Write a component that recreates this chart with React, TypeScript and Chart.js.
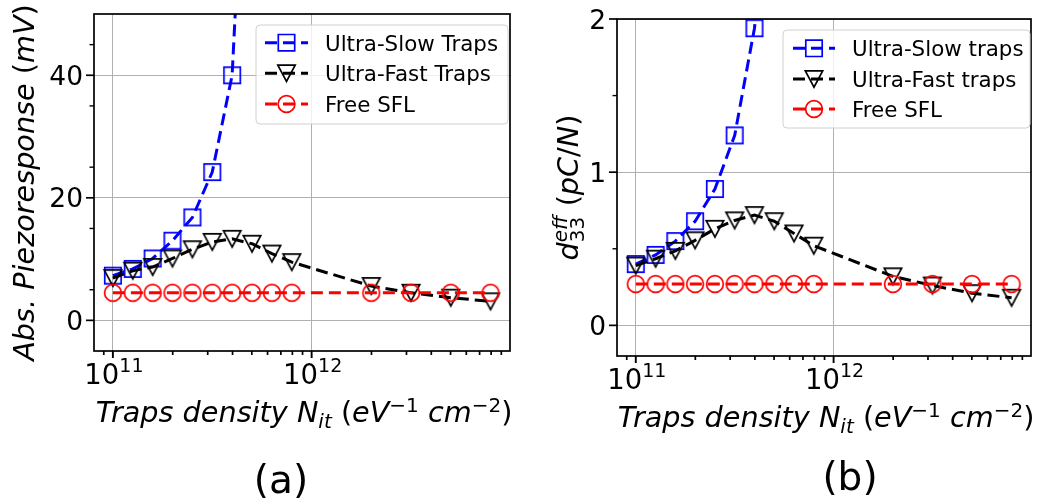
import React, { useEffect, useRef } from "react";
import { Chart, registerables } from "chart.js";

Chart.register(...registerables);

// ---------------- data ----------------
const trapDensity = [
  1e11, 1.259e11, 1.585e11, 1.995e11, 2.512e11, 3.162e11, 3.981e11, 5.012e11,
  6.31e11, 7.943e11, 1.995e12, 3.162e12, 5.012e12, 7.943e12,
];

const seriesNamesA = ["Ultra-Slow Traps", "Ultra-Fast Traps", "Free SFL"];
const seriesNamesB = ["Ultra-Slow traps", "Ultra-Fast traps", "Free SFL"];

// (a) Abs. Piezoresponse (mV)
const slowPiezo = [7.3, 8.4, 10.1, 13.0, 16.8, 24.2, 40.0, 105];
const fastPiezo = [6.9, 8.1, 8.7, 10.1, 11.6, 12.8, 13.3, 12.5, 10.9, 9.5, 5.6, 4.5, 3.7, 3.1];
const sflPiezo = [4.5, 4.5, 4.5, 4.5, 4.5, 4.5, 4.5, 4.5, 4.5, 4.5, 4.5, 4.5, 4.5, 4.5];

// (b) d33 eff (pC/N)
const slowD33 = [0.4, 0.46, 0.55, 0.68, 0.89, 1.24, 1.94, 3.2];
const fastD33 = [0.39, 0.435, 0.486, 0.555, 0.63, 0.685, 0.72, 0.68, 0.6, 0.52, 0.32, 0.26, 0.21, 0.18];
const sflD33 = [0.27, 0.27, 0.27, 0.27, 0.27, 0.27, 0.27, 0.27, 0.27, 0.27, 0.27, 0.27, 0.27, 0.27];

const xTickValues = [1e11, 1e12];
const xTickExponents = ["11", "12"];
const xMinorMantissas = [2, 3, 4, 5, 6, 7, 8, 9];
const xMinorDecades = [10, 11, 12];
const yTicksA = [0, 20, 40];
const yMinorA = [5, 15, 25, 35, 45];
const yTicksB = [0, 1, 2];
const yMinorB = [0.5, 1.5];

const X_MIN = Math.pow(10, 10.905);
const X_MAX = Math.pow(10, 12.998);

// ---------------- helpers ----------------
type Seg = { t: string; s: number; it?: boolean; dy?: number; stack?: boolean };
const FAM = '"DejaVu Sans"';
const segFont = (g: Seg) => `${g.it ? "italic " : ""}${g.s}px ${FAM}`;

function segsWidth(ctx: CanvasRenderingContext2D, segs: Seg[]) {
  let w = 0;
  let pending = 0;
  for (const g of segs) {
    ctx.font = segFont(g);
    const m = ctx.measureText(g.t).width;
    if (g.stack) {
      pending = m;
      continue;
    }
    w += Math.max(m, pending);
    pending = 0;
  }
  return w;
}

function drawSegs(ctx: CanvasRenderingContext2D, segs: Seg[], x: number, y: number) {
  let cx = x;
  let pending = 0;
  ctx.textAlign = "left";
  ctx.textBaseline = "alphabetic";
  for (const g of segs) {
    ctx.font = segFont(g);
    const m = ctx.measureText(g.t).width;
    ctx.fillText(g.t, cx, y + (g.dy || 0));
    if (g.stack) {
      pending = m;
      continue;
    }
    cx += Math.max(m, pending);
    pending = 0;
  }
}

const MARKER_LW = 1.7;

function makeMarker(kind: "square" | "tri" | "circle", color: string) {
  const c = document.createElement("canvas");
  c.width = 24;
  c.height = 24;
  const ctx = c.getContext("2d")!;
  ctx.strokeStyle = color;
  ctx.lineWidth = MARKER_LW;
  ctx.beginPath();
  drawMarkerPath(ctx, kind, 12, 12);
  ctx.stroke();
  return c;
}

function drawMarkerPath(ctx: CanvasRenderingContext2D, kind: string, x: number, y: number) {
  if (kind === "square") {
    ctx.rect(x - 8.2, y - 8.2, 16.4, 16.4);
  } else if (kind === "tri") {
    ctx.moveTo(x - 8.7, y - 8.2);
    ctx.lineTo(x + 8.7, y - 8.2);
    ctx.lineTo(x, y + 8.2);
    ctx.closePath();
  } else {
    ctx.arc(x, y, 8.4, 0, Math.PI * 2);
  }
}

const COLORS = ["#0000ff", "#000000", "#ff0000"];
const KINDS: ("square" | "tri" | "circle")[] = ["square", "tri", "circle"];
const DASH = [12, 6];
const LW = 3;

const TS = 28.7;
const TSS = 20;

const xTitle: Seg[] = [
  { t: "Traps density ", s: TS, it: true },
  { t: "N", s: TS, it: true },
  { t: "it", s: TSS, it: true, dy: 6 },
  { t: " (", s: TS },
  { t: "eV", s: TS, it: true },
  { t: "\u22121", s: TSS, dy: -10 },
  { t: " ", s: TS },
  { t: "cm", s: TS, it: true },
  { t: "\u22122", s: TSS, dy: -10 },
  { t: ")", s: TS },
];

const yTitleA: Seg[] = [
  { t: "Abs. Piezoresponse", s: TS, it: true },
  { t: " (", s: TS },
  { t: "mV", s: TS, it: true },
  { t: ")", s: TS },
];

const yTitleB: Seg[] = [
  { t: "d", s: TS, it: true },
  { t: "eff", s: TSS, it: true, dy: -11, stack: true },
  { t: "33", s: TSS, dy: 6 },
  { t: " (", s: TS },
  { t: "pC", s: TS, it: true },
  { t: "/", s: TS },
  { t: "N", s: TS, it: true },
  { t: ")", s: TS },
];

interface PanelCfg {
  left: number;
  names: string[];
  series: number[][];
  yMin: number;
  yMax: number;
  yTicks: number[];
  yMinor: number[];
  padTop: number;
  padRight: number;
  yWidth: number;
  xHeight: number;
  yTitle: Seg[];
  yTitleX: number;
  legend: { x: number; y: number; w: number; h: number; rows: number[]; hx0: number; hx1: number; tx: number };
  label: string;
  labelX: number;
  labelY: number;
}

const panelA: PanelCfg = {
  left: 0,
  names: seriesNamesA,
  series: [slowPiezo, fastPiezo, sflPiezo],
  yMin: -5,
  yMax: 50,
  yTicks: yTicksA,
  yMinor: yMinorA,
  padTop: 14,
  padRight: 3,
  yWidth: 94,
  xHeight: 151,
  yTitle: yTitleA,
  yTitleX: 34,
  legend: { x: 256, y: 25, w: 252, h: 99, rows: [42.7, 73.3, 104], hx0: 265, hx1: 308, tx: 325 },
  label: "(a)",
  labelX: 281,
  labelY: 493,
};

const panelB: PanelCfg = {
  left: 521,
  names: seriesNamesB,
  series: [slowD33, fastD33, sflD33],
  yMin: -0.2,
  yMax: 2,
  yTicks: yTicksB,
  yMinor: yMinorB,
  padTop: 19,
  padRight: 2,
  yWidth: 96,
  xHeight: 146,
  yTitle: yTitleB,
  yTitleX: 57,
  legend: { x: 262, y: 30, w: 247, h: 98, rows: [48.3, 79, 109], hx0: 272, hx1: 314, tx: 331 },
  label: "(b)",
  labelX: 329,
  labelY: 490,
};

function decoPlugin(cfg: PanelCfg) {
  return {
    id: "deco",
    afterDraw(chart: any) {
      const ctx: CanvasRenderingContext2D = chart.ctx;
      const { left, right, top, bottom } = chart.chartArea;
      const xs = chart.scales.x;
      const ys = chart.scales.y;
      ctx.save();
      ctx.fillStyle = "#000";
      ctx.strokeStyle = "#000";
      ctx.setLineDash([]);

      // y ticks
      ctx.lineWidth = 1.7;
      for (const v of cfg.yTicks) {
        const py = ys.getPixelForValue(v);
        ctx.beginPath();
        ctx.moveTo(left - 8, py);
        ctx.lineTo(left, py);
        ctx.stroke();
        ctx.font = `26.5px ${FAM}`;
        ctx.textAlign = "right";
        ctx.textBaseline = "alphabetic";
        ctx.fillText(String(v), left - 11, py + 9.6);
      }
      ctx.lineWidth = 1.4;
      for (const v of cfg.yMinor) {
        const py = ys.getPixelForValue(v);
        ctx.beginPath();
        ctx.moveTo(left - 4.5, py);
        ctx.lineTo(left, py);
        ctx.stroke();
      }

      // x ticks
      ctx.lineWidth = 1.9;
      xTickValues.forEach((v, i) => {
        const px = xs.getPixelForValue(v);
        ctx.beginPath();
        ctx.moveTo(px, bottom);
        ctx.lineTo(px, bottom + 7);
        ctx.stroke();
        const segs: Seg[] = [
          { t: "10", s: 27.5 },
          { t: xTickExponents[i], s: 19, dy: -11.6 },
        ];
        const w = segsWidth(ctx, segs);
        drawSegs(ctx, segs, px - w / 2 + 1, bottom + 32.5);
      });
      ctx.lineWidth = 1.7;
      for (const d of xMinorDecades) {
        for (const m of xMinorMantissas) {
          const v = m * Math.pow(10, d);
          if (v < X_MIN || v > X_MAX) continue;
          const px = xs.getPixelForValue(v);
          ctx.beginPath();
          ctx.moveTo(px, bottom);
          ctx.lineTo(px, bottom + 4);
          ctx.stroke();
        }
      }

      // frame
      ctx.lineWidth = 1.7;
      ctx.strokeRect(left, top, right - left, bottom - top);

      // x title
      const xw = segsWidth(ctx, xTitle);
      drawSegs(ctx, xTitle, (left + right) / 2 - xw / 2 + 2, bottom + 70.7);

      // y title (rotated)
      const yw = segsWidth(ctx, cfg.yTitle);
      ctx.save();
      ctx.translate(cfg.yTitleX, (top + bottom) / 2);
      ctx.rotate(-Math.PI / 2);
      drawSegs(ctx, cfg.yTitle, -yw / 2, 0);
      ctx.restore();

      // legend
      const L = cfg.legend;
      const r = 4;
      ctx.beginPath();
      ctx.moveTo(L.x + r, L.y);
      ctx.lineTo(L.x + L.w - r, L.y);
      ctx.quadraticCurveTo(L.x + L.w, L.y, L.x + L.w, L.y + r);
      ctx.lineTo(L.x + L.w, L.y + L.h - r);
      ctx.quadraticCurveTo(L.x + L.w, L.y + L.h, L.x + L.w - r, L.y + L.h);
      ctx.lineTo(L.x + r, L.y + L.h);
      ctx.quadraticCurveTo(L.x, L.y + L.h, L.x, L.y + L.h - r);
      ctx.lineTo(L.x, L.y + r);
      ctx.quadraticCurveTo(L.x, L.y, L.x + r, L.y);
      ctx.closePath();
      ctx.fillStyle = "rgba(255,255,255,0.8)";
      ctx.fill();
      ctx.strokeStyle = "#d0d0d0";
      ctx.lineWidth = 1;
      ctx.stroke();

      cfg.names.forEach((name, i) => {
        const ry = L.rows[i];
        ctx.strokeStyle = COLORS[i];
        ctx.lineWidth = LW;
        ctx.setLineDash(DASH);
        ctx.beginPath();
        ctx.moveTo(L.hx0, ry);
        ctx.lineTo(L.hx1, ry);
        ctx.stroke();
        ctx.setLineDash([]);
        ctx.lineWidth = MARKER_LW;
        ctx.beginPath();
        drawMarkerPath(ctx, KINDS[i], (L.hx0 + L.hx1) / 2, ry);
        ctx.stroke();
        ctx.fillStyle = "#000";
        ctx.font = `21.4px ${FAM}`;
        ctx.textAlign = "left";
        ctx.textBaseline = "alphabetic";
        ctx.fillText(name, L.tx, ry + 7.9);
      });

      // panel label
      ctx.fillStyle = "#000";
      ctx.font = `39px ${FAM}`;
      ctx.textAlign = "center";
      ctx.textBaseline = "alphabetic";
      ctx.fillText(cfg.label, cfg.labelX, cfg.labelY);
      ctx.restore();
    },
  };
}

function Panel({ cfg }: { cfg: PanelCfg }) {
  const ref = useRef<HTMLCanvasElement>(null);
  useEffect(() => {
    const toPts = (ys: number[]) => ys.map((y, i) => ({ x: trapDensity[i], y }));
    const order = [2, 1, 0];
    const datasets = cfg.series.map((s, i) => ({
      label: cfg.names[i],
      data: toPts(s),
      borderColor: COLORS[i],
      backgroundColor: "transparent",
      borderWidth: LW,
      borderDash: DASH,
      borderCapStyle: "butt" as const,
      pointStyle: makeMarker(KINDS[i], COLORS[i]),
      pointRadius: 8,
      pointHoverRadius: 8,
      tension: 0,
      fill: false,
      clip: 0,
      order: order[i],
    }));
    const chart = new Chart(ref.current!, {
      type: "line",
      data: { datasets },
      options: {
        responsive: false,
        animation: false,
        events: [],
        layout: { padding: { top: cfg.padTop, right: cfg.padRight, left: 0, bottom: 0 } },
        plugins: { legend: { display: false }, tooltip: { enabled: false } },
        scales: {
          x: {
            type: "logarithmic",
            min: X_MIN,
            max: X_MAX,
            afterBuildTicks: (s: any) => {
              s.ticks = xTickValues.map((v) => ({ value: v }));
            },
            afterFit: (s: any) => {
              s.height = cfg.xHeight;
            },
            ticks: { display: false },
            grid: { color: "#b0b0b0", lineWidth: 1, drawTicks: false },
            border: { display: false },
          },
          y: {
            type: "linear",
            min: cfg.yMin,
            max: cfg.yMax,
            afterBuildTicks: (s: any) => {
              s.ticks = cfg.yTicks.map((v) => ({ value: v }));
            },
            afterFit: (s: any) => {
              s.width = cfg.yWidth;
            },
            ticks: { display: false },
            grid: { color: "#b0b0b0", lineWidth: 1, drawTicks: false },
            border: { display: false },
          },
        },
      } as any,
      plugins: [decoPlugin(cfg)],
    });
    return () => chart.destroy();
  }, []);
  return (
    <canvas
      ref={ref}
      width={521}
      height={502}
      style={{ position: "absolute", left: cfg.left, top: 0, width: 521, height: 502 }}
    />
  );
}

export default function App() {
  return (
    <div style={{ position: "absolute", left: 0, top: 0, width: 1042, height: 502, background: "#fff" }}>
      <Panel cfg={panelA} />
      <Panel cfg={panelB} />
    </div>
  );
}
